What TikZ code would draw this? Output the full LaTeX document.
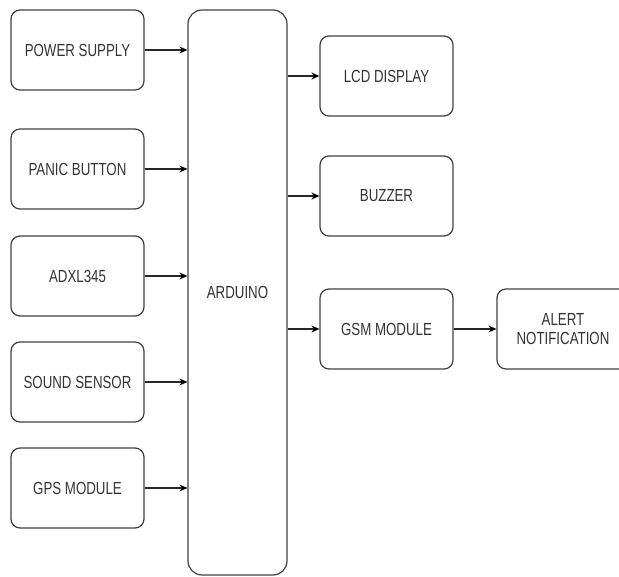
\documentclass[tikz,border=0pt]{standalone}
\usepackage{fontspec}
\setmainfont{Liberation Sans}[FakeStretch=0.76]
\usetikzlibrary{arrows.meta}
\newcommand{\boxwidth}{133pt}
\newcommand{\boxheight}{80pt}

\begin{document}
\begin{tikzpicture}[x=1pt,y=-1pt]
            \useasboundingbox (0,0) rectangle (619,577);
            \begin{scope}[every node/.style={rectangle,rounded corners=9pt,draw=black!75,line width=1.2pt,
                minimum width=\boxwidth,minimum height=\boxheight,align=center,text=black!80,
                font=\fontsize{17.5}{19}\selectfont,inner sep=2pt}]
                \node (ps) at (77.5,50) {POWER SUPPLY};
                \node (pb) at (77.5,169) {PANIC BUTTON};
                \node (adxl) at (77.5,276) {ADXL345};
                \node (ss) at (77.5,382) {SOUND SENSOR};
                \node (gps) at (77.5,488) {GPS MODULE};
                \node[minimum width=99pt,minimum height=565pt,rounded corners=14pt] (ard) at (237.5,292.5) {ARDUINO};
                \node (lcd) at (386.5,76) {LCD DISPLAY};
                \node (buz) at (386.5,196) {BUZZER};
                \node (gsm) at (386.5,329) {GSM MODULE};
                \node[minimum width=132pt] (alert) at (563,329) {ALERT\\NOTIFICATION};
            \end{scope}

            \begin{scope}[>={Stealth[black,length=8pt,width=7pt]},
                every edge/.style={draw=black!85,line width=1.3pt}]
                \path [->] (ps.east) edge (ps.east -| ard.west);
                \path [->] (pb.east) edge (pb.east -| ard.west);
                \path [->] (adxl.east) edge (adxl.east -| ard.west);
                \path [->] (ss.east) edge (ss.east -| ard.west);
                \path [->] (gps.east) edge (gps.east -| ard.west);
                \path [->] (ard.east |- lcd.west) edge (lcd.west);
                \path [->] (ard.east |- buz.west) edge (buz.west);
                \path [->] (ard.east |- gsm.west) edge (gsm.west);
                \path [->] (gsm) edge (alert);
            \end{scope}
            \end{tikzpicture}
\end{document}
